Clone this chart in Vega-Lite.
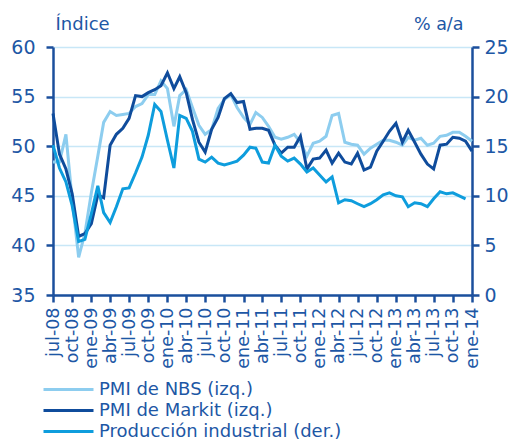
{
  "$schema": "https://vega.github.io/schema/vega-lite/v6.json",
  "autosize": "none",
  "width": 419,
  "height": 248,
  "padding": {"left": 53, "top": 47, "right": 43, "bottom": 151},
  "background": "white",
  "config": {
    "view": {"stroke": null},
    "font": "DejaVu Sans",
    "axis": {
      "domainColor": "#1b4f9c",
      "domainWidth": 2.5,
      "tickColor": "#1b4f9c",
      "tickWidth": 2.5,
      "tickSize": 7,
      "labelColor": "#1d57a5",
      "titleColor": "#1d57a5",
      "labelFont": "DejaVu Sans",
      "titleFont": "DejaVu Sans",
      "titleFontWeight": "normal"
    },
    "legend": {"labelFont": "DejaVu Sans"}
  },
  "data": {
    "values": [
      {"f":"2008-07-01","s":"NBS","v":48.4},{"f":"2008-08-01","s":"NBS","v":48.4},{"f":"2008-09-01","s":"NBS","v":51.2},{"f":"2008-10-01","s":"NBS","v":44.6},{"f":"2008-11-01","s":"NBS","v":38.8},{"f":"2008-12-01","s":"NBS","v":41.2},
      {"f":"2009-01-01","s":"NBS","v":45.3},{"f":"2009-02-01","s":"NBS","v":49.0},{"f":"2009-03-01","s":"NBS","v":52.4},{"f":"2009-04-01","s":"NBS","v":53.5},{"f":"2009-05-01","s":"NBS","v":53.1},{"f":"2009-06-01","s":"NBS","v":53.2},{"f":"2009-07-01","s":"NBS","v":53.3},{"f":"2009-08-01","s":"NBS","v":54.0},{"f":"2009-09-01","s":"NBS","v":54.3},{"f":"2009-10-01","s":"NBS","v":55.2},{"f":"2009-11-01","s":"NBS","v":55.2},{"f":"2009-12-01","s":"NBS","v":56.6},
      {"f":"2010-01-01","s":"NBS","v":55.8},{"f":"2010-02-01","s":"NBS","v":52.0},{"f":"2010-03-01","s":"NBS","v":55.1},{"f":"2010-04-01","s":"NBS","v":55.7},{"f":"2010-05-01","s":"NBS","v":53.9},{"f":"2010-06-01","s":"NBS","v":52.1},{"f":"2010-07-01","s":"NBS","v":51.2},{"f":"2010-08-01","s":"NBS","v":51.7},{"f":"2010-09-01","s":"NBS","v":53.8},{"f":"2010-10-01","s":"NBS","v":54.7},{"f":"2010-11-01","s":"NBS","v":55.2},{"f":"2010-12-01","s":"NBS","v":53.9},
      {"f":"2011-01-01","s":"NBS","v":52.9},{"f":"2011-02-01","s":"NBS","v":52.2},{"f":"2011-03-01","s":"NBS","v":53.4},{"f":"2011-04-01","s":"NBS","v":52.9},{"f":"2011-05-01","s":"NBS","v":52.0},{"f":"2011-06-01","s":"NBS","v":50.9},{"f":"2011-07-01","s":"NBS","v":50.7},{"f":"2011-08-01","s":"NBS","v":50.9},{"f":"2011-09-01","s":"NBS","v":51.2},{"f":"2011-10-01","s":"NBS","v":50.4},{"f":"2011-11-01","s":"NBS","v":49.0},{"f":"2011-12-01","s":"NBS","v":50.3},
      {"f":"2012-01-01","s":"NBS","v":50.5},{"f":"2012-02-01","s":"NBS","v":51.0},{"f":"2012-03-01","s":"NBS","v":53.1},{"f":"2012-04-01","s":"NBS","v":53.3},{"f":"2012-05-01","s":"NBS","v":50.4},{"f":"2012-06-01","s":"NBS","v":50.2},{"f":"2012-07-01","s":"NBS","v":50.1},{"f":"2012-08-01","s":"NBS","v":49.2},{"f":"2012-09-01","s":"NBS","v":49.8},{"f":"2012-10-01","s":"NBS","v":50.2},{"f":"2012-11-01","s":"NBS","v":50.6},{"f":"2012-12-01","s":"NBS","v":50.6},
      {"f":"2013-01-01","s":"NBS","v":50.4},{"f":"2013-02-01","s":"NBS","v":50.1},{"f":"2013-03-01","s":"NBS","v":50.9},{"f":"2013-04-01","s":"NBS","v":50.6},{"f":"2013-05-01","s":"NBS","v":50.8},{"f":"2013-06-01","s":"NBS","v":50.1},{"f":"2013-07-01","s":"NBS","v":50.3},{"f":"2013-08-01","s":"NBS","v":51.0},{"f":"2013-09-01","s":"NBS","v":51.1},{"f":"2013-10-01","s":"NBS","v":51.4},{"f":"2013-11-01","s":"NBS","v":51.4},{"f":"2013-12-01","s":"NBS","v":51.0},
      {"f":"2014-01-01","s":"NBS","v":50.5},

      {"f":"2008-07-01","s":"Markit","v":53.3},{"f":"2008-08-01","s":"Markit","v":49.2},{"f":"2008-09-01","s":"Markit","v":47.7},{"f":"2008-10-01","s":"Markit","v":45.2},{"f":"2008-11-01","s":"Markit","v":40.9},{"f":"2008-12-01","s":"Markit","v":41.2},
      {"f":"2009-01-01","s":"Markit","v":42.2},{"f":"2009-02-01","s":"Markit","v":45.1},{"f":"2009-03-01","s":"Markit","v":44.8},{"f":"2009-04-01","s":"Markit","v":50.1},{"f":"2009-05-01","s":"Markit","v":51.2},{"f":"2009-06-01","s":"Markit","v":51.8},{"f":"2009-07-01","s":"Markit","v":52.8},{"f":"2009-08-01","s":"Markit","v":55.1},{"f":"2009-09-01","s":"Markit","v":55.0},{"f":"2009-10-01","s":"Markit","v":55.4},{"f":"2009-11-01","s":"Markit","v":55.7},{"f":"2009-12-01","s":"Markit","v":56.1},
      {"f":"2010-01-01","s":"Markit","v":57.4},{"f":"2010-02-01","s":"Markit","v":55.8},{"f":"2010-03-01","s":"Markit","v":57.0},{"f":"2010-04-01","s":"Markit","v":55.4},{"f":"2010-05-01","s":"Markit","v":52.7},{"f":"2010-06-01","s":"Markit","v":50.4},{"f":"2010-07-01","s":"Markit","v":49.4},{"f":"2010-08-01","s":"Markit","v":51.7},{"f":"2010-09-01","s":"Markit","v":52.9},{"f":"2010-10-01","s":"Markit","v":54.8},{"f":"2010-11-01","s":"Markit","v":55.3},{"f":"2010-12-01","s":"Markit","v":54.4},
      {"f":"2011-01-01","s":"Markit","v":54.5},{"f":"2011-02-01","s":"Markit","v":51.7},{"f":"2011-03-01","s":"Markit","v":51.8},{"f":"2011-04-01","s":"Markit","v":51.8},{"f":"2011-05-01","s":"Markit","v":51.6},{"f":"2011-06-01","s":"Markit","v":50.1},{"f":"2011-07-01","s":"Markit","v":49.3},{"f":"2011-08-01","s":"Markit","v":49.9},{"f":"2011-09-01","s":"Markit","v":49.9},{"f":"2011-10-01","s":"Markit","v":51.0},{"f":"2011-11-01","s":"Markit","v":47.7},{"f":"2011-12-01","s":"Markit","v":48.7},
      {"f":"2012-01-01","s":"Markit","v":48.8},{"f":"2012-02-01","s":"Markit","v":49.6},{"f":"2012-03-01","s":"Markit","v":48.3},{"f":"2012-04-01","s":"Markit","v":49.3},{"f":"2012-05-01","s":"Markit","v":48.4},{"f":"2012-06-01","s":"Markit","v":48.2},{"f":"2012-07-01","s":"Markit","v":49.3},{"f":"2012-08-01","s":"Markit","v":47.6},{"f":"2012-09-01","s":"Markit","v":47.9},{"f":"2012-10-01","s":"Markit","v":49.5},{"f":"2012-11-01","s":"Markit","v":50.5},{"f":"2012-12-01","s":"Markit","v":51.5},
      {"f":"2013-01-01","s":"Markit","v":52.3},{"f":"2013-02-01","s":"Markit","v":50.4},{"f":"2013-03-01","s":"Markit","v":51.6},{"f":"2013-04-01","s":"Markit","v":50.4},{"f":"2013-05-01","s":"Markit","v":49.2},{"f":"2013-06-01","s":"Markit","v":48.2},{"f":"2013-07-01","s":"Markit","v":47.7},{"f":"2013-08-01","s":"Markit","v":50.1},{"f":"2013-09-01","s":"Markit","v":50.2},{"f":"2013-10-01","s":"Markit","v":50.9},{"f":"2013-11-01","s":"Markit","v":50.8},{"f":"2013-12-01","s":"Markit","v":50.5},
      {"f":"2014-01-01","s":"Markit","v":49.5},

      {"f":"2008-07-01","s":"IP","v":15.1},{"f":"2008-08-01","s":"IP","v":12.8},{"f":"2008-09-01","s":"IP","v":11.4},{"f":"2008-10-01","s":"IP","v":9.0},{"f":"2008-11-01","s":"IP","v":5.4},{"f":"2008-12-01","s":"IP","v":5.6},
      {"f":"2009-01-01","s":"IP","v":8.2},{"f":"2009-02-01","s":"IP","v":11.0},{"f":"2009-03-01","s":"IP","v":8.3},{"f":"2009-04-01","s":"IP","v":7.3},{"f":"2009-05-01","s":"IP","v":8.9},{"f":"2009-06-01","s":"IP","v":10.7},{"f":"2009-07-01","s":"IP","v":10.8},{"f":"2009-08-01","s":"IP","v":12.3},{"f":"2009-09-01","s":"IP","v":13.9},{"f":"2009-10-01","s":"IP","v":16.1},{"f":"2009-11-01","s":"IP","v":19.2},{"f":"2009-12-01","s":"IP","v":18.5},
      {"f":"2010-01-01","s":"IP","v":15.6},{"f":"2010-02-01","s":"IP","v":12.8},{"f":"2010-03-01","s":"IP","v":18.1},{"f":"2010-04-01","s":"IP","v":17.8},{"f":"2010-05-01","s":"IP","v":16.5},{"f":"2010-06-01","s":"IP","v":13.7},{"f":"2010-07-01","s":"IP","v":13.4},{"f":"2010-08-01","s":"IP","v":13.9},{"f":"2010-09-01","s":"IP","v":13.3},{"f":"2010-10-01","s":"IP","v":13.1},{"f":"2010-11-01","s":"IP","v":13.3},{"f":"2010-12-01","s":"IP","v":13.5},
      {"f":"2011-01-01","s":"IP","v":14.1},{"f":"2011-02-01","s":"IP","v":14.9},{"f":"2011-03-01","s":"IP","v":14.8},{"f":"2011-04-01","s":"IP","v":13.4},{"f":"2011-05-01","s":"IP","v":13.3},{"f":"2011-06-01","s":"IP","v":15.1},{"f":"2011-07-01","s":"IP","v":14.0},{"f":"2011-08-01","s":"IP","v":13.5},{"f":"2011-09-01","s":"IP","v":13.8},{"f":"2011-10-01","s":"IP","v":13.2},{"f":"2011-11-01","s":"IP","v":12.4},{"f":"2011-12-01","s":"IP","v":12.8},
      {"f":"2012-01-01","s":"IP","v":12.1},{"f":"2012-02-01","s":"IP","v":11.4},{"f":"2012-03-01","s":"IP","v":11.9},{"f":"2012-04-01","s":"IP","v":9.3},{"f":"2012-05-01","s":"IP","v":9.6},{"f":"2012-06-01","s":"IP","v":9.5},{"f":"2012-07-01","s":"IP","v":9.2},{"f":"2012-08-01","s":"IP","v":8.9},{"f":"2012-09-01","s":"IP","v":9.2},{"f":"2012-10-01","s":"IP","v":9.6},{"f":"2012-11-01","s":"IP","v":10.1},{"f":"2012-12-01","s":"IP","v":10.3},
      {"f":"2013-01-01","s":"IP","v":10.0},{"f":"2013-02-01","s":"IP","v":9.9},{"f":"2013-03-01","s":"IP","v":8.9},{"f":"2013-04-01","s":"IP","v":9.3},{"f":"2013-05-01","s":"IP","v":9.2},{"f":"2013-06-01","s":"IP","v":8.9},{"f":"2013-07-01","s":"IP","v":9.7},{"f":"2013-08-01","s":"IP","v":10.4},{"f":"2013-09-01","s":"IP","v":10.2},{"f":"2013-10-01","s":"IP","v":10.3},{"f":"2013-11-01","s":"IP","v":10.0},{"f":"2013-12-01","s":"IP","v":9.7}
    ]
  },
  "encoding": {
    "x": {
      "field": "f",
      "type": "temporal",
      "scale": {
        "type": "utc",
        "domain": [
          {"year": 2008, "month": 7, "date": 1, "utc": true},
          {"year": 2014, "month": 1, "date": 1, "utc": true}
        ]
      },
      "axis": {
        "title": null,
        "grid": false,
        "tickCount": {"interval": "month", "step": 3},
        "labelAngle": -90,
        "labelFontSize": 17.5,
        "labelPadding": 5,
        "labelOverlap": false,
        "labelFlush": false,
        "labelExpr": "['ene','feb','mar','abr','may','jun','jul','ago','sep','oct','nov','dic'][utcmonth(datum.value)] + '-' + utcFormat(datum.value, '%y')"
      }
    },
    "color": {
      "field": "s",
      "type": "nominal",
      "scale": {
        "domain": ["NBS", "Markit", "IP"],
        "range": ["#8dcdef", "#0f4c9c", "#0e9ddd"]
      },
      "legend": {
        "title": null,
        "orient": "none",
        "legendX": 4,
        "legendY": 331,
        "symbolType": "M-2.5,0H2.5",
        "symbolSize": 400,
        "symbolStrokeWidth": 3,
        "labelFontSize": 18,
        "labelColor": "#1d57a5",
        "labelOffset": 19,
        "labelLimit": 400,
        "rowPadding": 0,
        "labelExpr": "datum.label == 'NBS' ? 'PMI de NBS (izq.)' : datum.label == 'Markit' ? 'PMI de Markit (izq.)' : 'Producción industrial (der.)'"
      }
    }
  },
  "layer": [
    {
      "transform": [{"filter": "datum.s != 'IP'"}],
      "mark": {"type": "line", "strokeWidth": 3},
      "encoding": {
        "y": {
          "field": "v",
          "type": "quantitative",
          "scale": {"domain": [35, 60], "nice": false, "zero": false},
          "axis": {
            "orient": "left",
            "values": [35, 40, 45, 50, 55, 60],
            "grid": true,
            "gridColor": "#c8e7f7",
            "gridWidth": 1.5,
            "labelFontSize": 19,
            "labelPadding": 11,
            "title": "Índice",
            "titleFontSize": 18,
            "titleAngle": 0,
            "titleAlign": "left",
            "titleBaseline": "alphabetic",
            "titleX": 2,
            "titleY": -18
          }
        }
      }
    },
    {
      "transform": [{"filter": "datum.s == 'IP'"}],
      "mark": {"type": "line", "strokeWidth": 3},
      "encoding": {
        "y": {
          "field": "v",
          "type": "quantitative",
          "scale": {"domain": [0, 25], "nice": false, "zero": false},
          "axis": {
            "orient": "right",
            "values": [0, 5, 10, 15, 20, 25],
            "grid": false,
            "labelFontSize": 19,
            "labelPadding": 5,
            "title": "% a/a",
            "titleFontSize": 17.5,
            "titleAngle": 0,
            "titleAlign": "right",
            "titleBaseline": "alphabetic",
            "titleX": -9,
            "titleY": -18
          }
        }
      }
    }
  ],
  "resolve": {"scale": {"y": "independent"}}
}
